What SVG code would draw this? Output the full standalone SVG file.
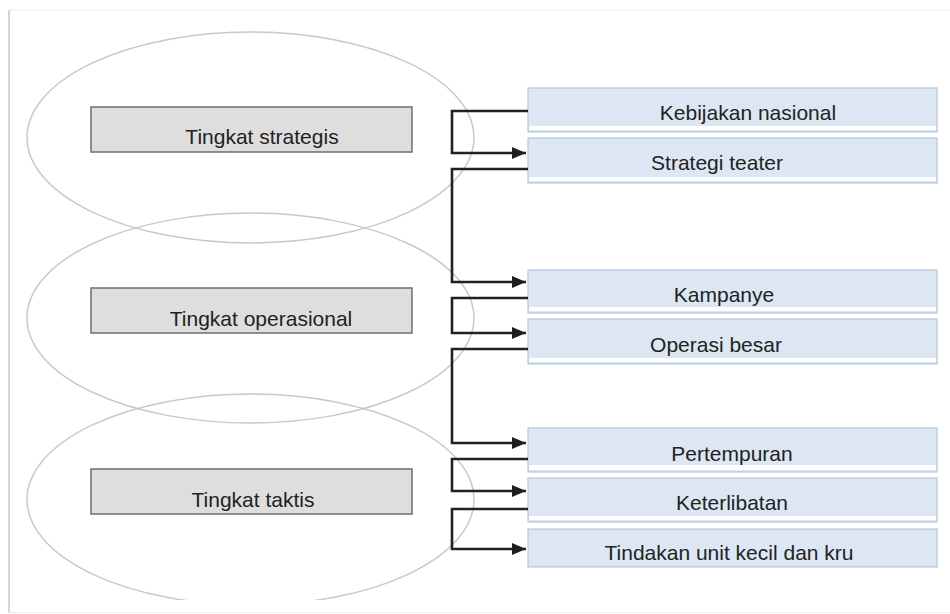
<svg xmlns="http://www.w3.org/2000/svg" width="950" height="614" viewBox="0 0 950 614">
  <style>
    .lvl { fill: none; stroke: #c9c9c9; stroke-width: 1.5; }
    .gbox { fill: #dedede; stroke: #6e6e6e; stroke-width: 1.5; }
    .bbox { fill: #dce7f3; stroke: #b5c5dc; stroke-width: 1.2; }
    .strip { fill: #ffffff; }
    .t { font-family: "Liberation Sans", Arial, sans-serif; font-size: 21px; fill: #222222; text-anchor: middle; }
    .conn { fill: none; stroke: #222222; stroke-width: 2.6; }
  </style>
  <defs>
    <marker id="arrow" markerUnits="userSpaceOnUse" markerWidth="15" markerHeight="14" refX="14" refY="7" orient="auto">
      <path d="M0,1 L14,7 L0,13 z" fill="#1e1e1e"/>
    </marker>
    <clipPath id="clipBottom">
      <rect x="0" y="0" width="950" height="600"/>
    </clipPath>
  </defs>
  <rect x="0" y="0" width="950" height="614" fill="#ffffff"/>
  <g id="frame">
    <line x1="9" y1="10" x2="950" y2="10" stroke="#ececec" stroke-width="1.2"/>
    <line x1="9" y1="10" x2="9" y2="613" stroke="#d6d6d6" stroke-width="2"/>
    <line x1="9" y1="612.5" x2="950" y2="612.5" stroke="#ececec" stroke-width="1.2"/>
  </g>
  <g id="level-ellipses">
    <ellipse class="lvl" cx="250.5" cy="137.5" rx="223.5" ry="105.5"/>
    <ellipse class="lvl" cx="250.5" cy="318" rx="223.5" ry="105"/>
    <ellipse class="lvl" cx="250.5" cy="499.5" rx="223.5" ry="105.5" clip-path="url(#clipBottom)"/>
  </g>
  <g id="level-strategis">
    <rect class="gbox" x="91" y="107" width="321" height="45"/>
    <text class="t" x="262" y="144">Tingkat strategis</text>
  </g>
  <g id="level-operasional">
    <rect class="gbox" x="91" y="288" width="321" height="45"/>
    <text class="t" x="261" y="326">Tingkat operasional</text>
  </g>
  <g id="level-taktis">
    <rect class="gbox" x="91" y="469" width="321" height="45"/>
    <text class="t" x="253" y="507">Tingkat taktis</text>
  </g>
  <g id="kebijakan-nasional">
    <rect class="bbox" x="528" y="88" width="409" height="44"/>
    <rect class="strip" x="529" y="126" width="407" height="4"/>
    <text class="t" x="748" y="119.5">Kebijakan nasional</text>
  </g>
  <g id="strategi-teater">
    <rect class="bbox" x="528" y="138" width="409" height="45"/>
    <rect class="strip" x="529" y="177" width="407" height="4"/>
    <text class="t" x="717" y="170">Strategi teater</text>
  </g>
  <g id="kampanye">
    <rect class="bbox" x="528" y="270" width="409" height="43"/>
    <rect class="strip" x="529" y="307" width="407" height="4"/>
    <text class="t" x="724" y="302">Kampanye</text>
  </g>
  <g id="operasi-besar">
    <rect class="bbox" x="528" y="319" width="409" height="45"/>
    <rect class="strip" x="529" y="358" width="407" height="4"/>
    <text class="t" x="716" y="352">Operasi besar</text>
  </g>
  <g id="pertempuran">
    <rect class="bbox" x="528" y="428" width="409" height="44"/>
    <rect class="strip" x="529" y="465" width="407" height="5"/>
    <text class="t" x="732" y="461">Pertempuran</text>
  </g>
  <g id="keterlibatan">
    <rect class="bbox" x="528" y="478" width="409" height="44"/>
    <rect class="strip" x="529" y="516" width="407" height="4"/>
    <text class="t" x="732" y="510">Keterlibatan</text>
  </g>
  <g id="tindakan-unit-kecil">
    <rect class="bbox" x="528" y="529" width="409" height="38"/>
    <text class="t" x="729" y="560">Tindakan unit kecil dan kru</text>
  </g>
  <g id="connectors">
    <path class="conn" d="M528,111 H452 V153 H526" marker-end="url(#arrow)"/>
    <path class="conn" d="M528,169 H452 V282 H526" marker-end="url(#arrow)"/>
    <path class="conn" d="M528,298 H452 V333 H526" marker-end="url(#arrow)"/>
    <path class="conn" d="M528,349 H452 V443 H526" marker-end="url(#arrow)"/>
    <path class="conn" d="M528,459 H452 V491 H526" marker-end="url(#arrow)"/>
    <path class="conn" d="M528,509 H452 V549 H526" marker-end="url(#arrow)"/>
  </g>
</svg>
